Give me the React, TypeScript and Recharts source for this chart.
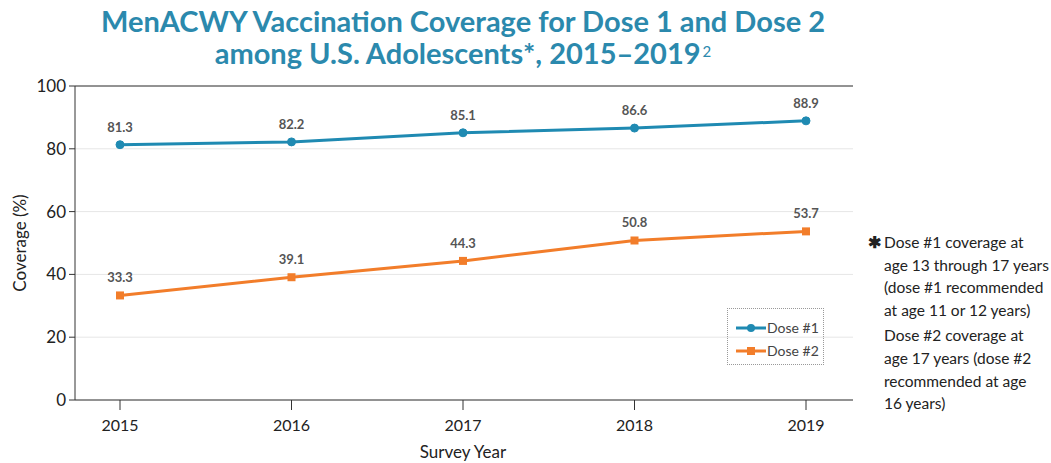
import { LineChart, Line, XAxis, YAxis, CartesianGrid, LabelList, ReferenceLine } from 'recharts'

const years = ['2015', '2016', '2017', '2018', '2019']
const dose1 = [81.3, 82.2, 85.1, 86.6, 88.9]
const dose2 = [33.3, 39.1, 44.3, 50.8, 53.7]
const yTicks = [0, 20, 40, 60, 80, 100]

const BLUE = '#1f8ab2'
const ORANGE = '#f27d2a'
const TITLE = '#2b89ad'

const data = years.map((year, i) => ({ year, dose1: dose1[i], dose2: dose2[i] }))

const note1 = ['Dose #1 coverage at', 'age 13 through 17 years', '(dose #1 recommended', 'at age 11 or 12 years)']
const note2 = ['Dose #2 coverage at', 'age 17 years (dose #2', 'recommended at age', '16 years)']

const SquareDot = (props: any) => {
  const { cx, cy } = props
  if (cx == null || cy == null) return null
  return <rect x={cx - 4} y={cy - 4} width={8} height={8} fill={ORANGE} />
}

const legendItems = [
  { label: 'Dose #1', color: BLUE, square: false },
  { label: 'Dose #2', color: ORANGE, square: true },
]

export default function App() {
  return (
    <div style={{ position: 'absolute', left: 0, top: 0, width: 1051, height: 463, background: '#fff', fontFamily: 'Lato, sans-serif' }}>
      {/* Title */}
      <div
        style={{
          position: 'absolute',
          left: 0,
          top: 5,
          width: 926,
          textAlign: 'center',
          color: TITLE,
          fontWeight: 700,
          fontSize: 29,
          lineHeight: '32px',
        }}
      >
        MenACWY Vaccination Coverage for Dose 1 and Dose 2
        <br />
        among U.S. Adolescents*, 2015–2019
        <sup style={{ fontSize: 15, fontWeight: 400, verticalAlign: 'top', position: 'relative', top: -2, marginLeft: 2 }}>2</sup>
      </div>

      <div style={{ position: 'absolute', left: 0, top: 0 }}>
        <LineChart width={1051} height={463} data={data} margin={{ top: 86, right: 198, bottom: 33, left: 0 }}>
          <CartesianGrid horizontal vertical={false} stroke="#e6e6e6" />
          <XAxis
            dataKey="year"
            padding={{ left: 45, right: 47 }}
            stroke="#333"
            tickSize={10}
            tickMargin={10}
            height={30}
            tick={{ fill: '#222', fontSize: 16, fontFamily: 'Lato, sans-serif' }}
          />
          <YAxis
            width={75}
            domain={[0, 100]}
            ticks={yTicks}
            stroke="#333"
            tickSize={6}
            tickMargin={3}
            tick={{ fill: '#222', fontSize: 17, fontFamily: 'Lato, sans-serif' }}
          />
          <YAxis yAxisId="right" orientation="right" width={0} tick={false} tickLine={false} stroke="#777" strokeWidth={2} domain={[0, 100]} />
          <ReferenceLine y={100} stroke="#333" />
          <Line
            type="linear"
            dataKey="dose1"
            stroke={BLUE}
            strokeWidth={3}
            dot={{ r: 4, fill: BLUE, stroke: BLUE, strokeWidth: 1 }}
            isAnimationActive={false}
          >
            <LabelList dataKey="dose1" position="top" offset={13} fill="#555" fontSize={13} fontWeight={700} fontFamily="Lato, sans-serif" />
          </Line>
          <Line
            type="linear"
            dataKey="dose2"
            stroke={ORANGE}
            strokeWidth={3}
            dot={<SquareDot />}
            isAnimationActive={false}
          >
            <LabelList dataKey="dose2" position="top" offset={13} fill="#555" fontSize={13} fontWeight={700} fontFamily="Lato, sans-serif" />
          </Line>
        </LineChart>
      </div>

      {/* Axis titles */}
      <div
        style={{
          position: 'absolute',
          left: 19,
          top: 243,
          transform: 'translate(-50%, -50%) rotate(-90deg)',
          whiteSpace: 'nowrap',
          fontSize: 17,
          color: '#222',
        }}
      >
        Coverage (%)
      </div>
      <div style={{ position: 'absolute', left: 363, width: 200, top: 441, textAlign: 'center', fontSize: 17, color: '#222' }}>
        Survey Year
      </div>

      {/* Legend */}
      <div
        style={{
          position: 'absolute',
          left: 727,
          top: 308,
          width: 97,
          height: 57,
          border: '1px dotted #999',
          boxSizing: 'border-box',
          padding: '7px 0 0 8px',
        }}
      >
        {legendItems.map((it) => (
          <div key={it.label} style={{ display: 'flex', alignItems: 'center', height: 23, fontSize: 14, color: '#444' }}>
            <svg width={30} height={10} style={{ marginRight: 1 }}>
              <line x1={0} y1={5} x2={30} y2={5} stroke={it.color} strokeWidth={3} />
              {it.square ? (
                <rect x={11} y={1} width={8} height={8} fill={it.color} />
              ) : (
                <circle cx={15} cy={5} r={4} fill={it.color} />
              )}
            </svg>
            {it.label}
          </div>
        ))}
      </div>

      {/* Footnote */}
      <div style={{ position: 'absolute', left: 868, top: 231, fontSize: 15.5, lineHeight: '22.6px', color: '#222', whiteSpace: 'nowrap' }}>
        <div style={{ position: 'relative', paddingLeft: 16 }}>
          <span style={{ position: 'absolute', left: 0, top: 0, fontWeight: 700 }}>✱</span>
          {note1.map((l) => (
            <div key={l}>{l}</div>
          ))}
        </div>
        <div style={{ paddingLeft: 16, marginTop: 3 }}>
          {note2.map((l) => (
            <div key={l}>{l}</div>
          ))}
        </div>
      </div>
    </div>
  )
}
